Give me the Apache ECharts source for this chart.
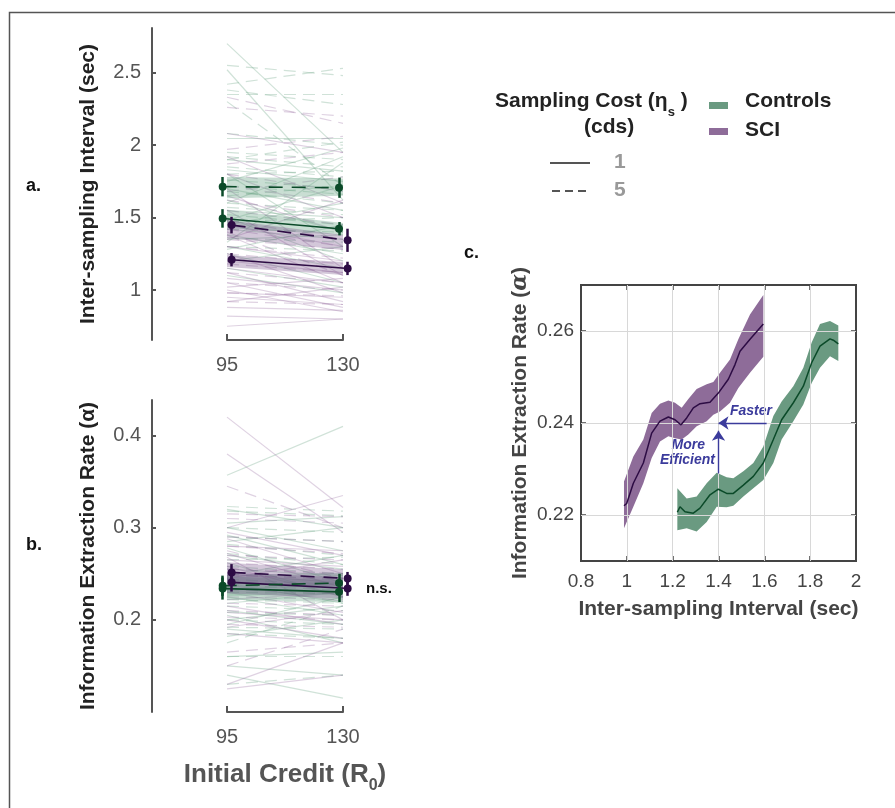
<!DOCTYPE html>
<html>
<head>
<meta charset="utf-8">
<script src="https://cdn.jsdelivr.net/npm/echarts@6/dist/echarts.min.js"></script>
<style>
  html, body { margin: 0; background: #fff; }
  #chart { width: 895px; height: 808px; }
</style>
</head>
<body>
<div id="chart"></div>
<script>
// ---- data ----
const credits = [95, 130]
const ctrlX = [93.7, 128.8]   // controls drawn a bit left
const sciX = [96.4, 131.4]    // SCI drawn a bit right

// panel a: individual subjects [R0=95, R0=130]
const isiCtrl1 = [[2.70,1.95],[2.52,1.62],[2.05,2.05],[1.90,1.82],[1.83,1.75],[1.80,1.30],[1.75,1.98],[1.70,1.55],[1.62,1.40],[1.55,1.50],[1.50,1.20],[1.45,1.60],[1.42,1.35],[1.38,1.25],[1.35,1.38],[1.30,1.15],[1.28,1.45],[1.25,1.05],[1.20,1.30],[1.15,1.02],[1.10,0.98],[1.48,1.72],[1.60,1.92],[1.33,1.88]]
const isiCtrl5 = [[2.38,2.28],[2.55,2.48],[2.35,2.35],[2.42,2.53],[2.08,2.00],[1.95,1.90],[1.92,1.85],[1.85,1.78],[1.80,1.82],[1.76,1.70],[1.72,1.66],[1.68,1.60],[1.65,1.72],[1.60,1.55],[1.57,1.52],[1.52,1.45],[1.47,1.50],[1.42,1.40],[1.36,1.33],[1.30,1.27],[1.90,2.02],[2.30,1.72]]
const isiSci1 = [[2.08,1.95],[1.92,1.60],[1.80,1.50],[1.65,1.40],[1.55,1.10],[1.45,1.30],[1.38,1.05],[1.30,1.20],[1.25,0.98],[1.20,1.12],[1.15,1.05],[1.12,0.92],[1.08,1.00],[1.05,0.88],[1.02,1.08],[1.00,0.85],[0.98,0.95],[0.95,0.90],[0.92,1.02],[0.82,0.80],[0.75,0.80],[0.88,0.86],[1.35,1.62],[1.70,1.15]]
const isiSci5 = [[2.33,2.15],[2.26,2.20],[1.97,2.06],[1.87,1.95],[1.80,1.68],[1.72,1.60],[1.62,1.50],[1.55,1.45],[1.48,1.35],[1.42,1.30],[1.35,1.28],[1.30,1.22],[1.25,1.18],[1.18,1.12],[1.12,1.05],[1.05,1.00],[0.98,0.96],[0.92,0.90],[1.68,1.78],[1.40,1.10]]

// panel a: group means, error bars, shaded spread
const isiMeanCtrl1 = [1.494, 1.423], isiErrCtrl1 = [0.064, 0.046], isiLoCtrl1 = [1.428, 1.379], isiHiCtrl1 = [1.552, 1.462]
const isiMeanCtrl5 = [1.713, 1.706], isiErrCtrl5 = [0.067, 0.070], isiLoCtrl5 = [1.634, 1.650], isiHiCtrl5 = [1.779, 1.770]
const isiMeanSci1 = [1.209, 1.149], isiErrSci1 = [0.046, 0.046], isiLoSci1 = [1.159, 1.103], isiHiSci1 = [1.241, 1.193]
const isiMeanSci5 = [1.448, 1.343], isiErrSci5 = [0.057, 0.080], isiLoSci5 = [1.359, 1.276], isiHiSci5 = [1.483, 1.379]

// panel b: individual subjects
const alphaCtrl1 = [[0.357,0.410],[0.320,0.300],[0.305,0.312],[0.300,0.275],[0.292,0.260],[0.285,0.300],[0.278,0.240],[0.270,0.255],[0.262,0.225],[0.255,0.248],[0.248,0.270],[0.240,0.218],[0.232,0.240],[0.225,0.205],[0.218,0.230],[0.210,0.195],[0.200,0.215],[0.190,0.180],[0.182,0.200],[0.160,0.165],[0.150,0.140],[0.140,0.115],[0.205,0.175],[0.195,0.225]]
const alphaCtrl5 = [[0.323,0.318],[0.318,0.313],[0.300,0.295],[0.290,0.285],[0.282,0.270],[0.272,0.260],[0.265,0.268],[0.258,0.250],[0.250,0.243],[0.244,0.238],[0.238,0.232],[0.230,0.228],[0.222,0.218],[0.215,0.210],[0.208,0.205],[0.200,0.195],[0.192,0.190],[0.185,0.180],[0.160,0.160],[0.130,0.140],[0.175,0.215]]
const alphaSci1 = [[0.420,0.322],[0.380,0.295],[0.300,0.335],[0.295,0.270],[0.288,0.250],[0.280,0.275],[0.272,0.235],[0.265,0.258],[0.258,0.225],[0.250,0.240],[0.245,0.265],[0.238,0.220],[0.230,0.208],[0.222,0.230],[0.215,0.195],[0.208,0.200],[0.200,0.180],[0.192,0.210],[0.185,0.175],[0.130,0.175],[0.125,0.140],[0.268,0.200]]
const alphaSci5 = [[0.345,0.300],[0.315,0.312],[0.310,0.305],[0.290,0.285],[0.280,0.272],[0.270,0.265],[0.262,0.255],[0.255,0.250],[0.248,0.245],[0.240,0.235],[0.233,0.228],[0.225,0.222],[0.218,0.215],[0.210,0.205],[0.203,0.200],[0.195,0.192],[0.165,0.175],[0.150,0.190],[0.275,0.245]]

const alphaMeanCtrl1 = [0.234, 0.2304], alphaErrCtrl1 = [0.012, 0.011], alphaLoCtrl1 = [0.222, 0.219], alphaHiCtrl1 = [0.247, 0.243]
const alphaMeanCtrl5 = [0.237, 0.240], alphaErrCtrl5 = [0.011, 0.010], alphaLoCtrl5 = [0.226, 0.228], alphaHiCtrl5 = [0.249, 0.251]
const alphaMeanSci1 = [0.2407, 0.2341], alphaErrSci1 = [0.010, 0.008], alphaLoSci1 = [0.229, 0.223], alphaHiSci1 = [0.252, 0.246]
const alphaMeanSci5 = [0.2515, 0.245], alphaErrSci5 = [0.009, 0.007], alphaLoSci5 = [0.240, 0.236], alphaHiSci5 = [0.262, 0.255]

// panel c: sliding-window curves
const sciIsi = [0.9876,0.9993,1.0284,1.0720,1.1084,1.1447,1.1811,1.2102,1.2364,1.2611,1.2902,1.3193,1.3629,1.3993,1.4429,1.4720,1.4938,1.5375,1.5956]
const sciAlpha = [0.2220,0.2225,0.2269,0.2313,0.2378,0.2404,0.2413,0.2407,0.2396,0.2411,0.2433,0.2442,0.2445,0.2465,0.2495,0.2527,0.2556,0.2582,0.2615]
const sciBandX = [0.9876,1.0284,1.0720,1.1084,1.1447,1.1811,1.2102,1.2393,1.2684,1.3047,1.3484,1.3775,1.4065,1.4502,1.4865,1.5375,1.5956]
const sciBandHi = [0.2273,0.2327,0.2364,0.2422,0.2442,0.2449,0.2444,0.2433,0.2452,0.2474,0.2484,0.2489,0.2509,0.2538,0.2582,0.2636,0.2678]
const sciBandLo = [0.2171,0.2218,0.2269,0.2324,0.2360,0.2371,0.2367,0.2364,0.2375,0.2393,0.2404,0.2418,0.2425,0.2444,0.2476,0.2509,0.2544]
const ctrlIsi = [1.2204,1.2320,1.2538,1.2902,1.3193,1.3629,1.3993,1.4356,1.4647,1.5084,1.5520,1.5956,1.6393,1.6756,1.7265,1.7702,1.8065,1.8429,1.8865,1.9011,1.9229]
const ctrlAlpha = [0.2206,0.2218,0.2207,0.2204,0.2215,0.2244,0.2256,0.2247,0.2247,0.2265,0.2284,0.2313,0.2364,0.2407,0.2444,0.2480,0.2531,0.2567,0.2583,0.2580,0.2572]
const ctrlBandX = [1.2204,1.2611,1.3047,1.3484,1.3920,1.4356,1.4647,1.5084,1.5520,1.5956,1.6393,1.6756,1.7265,1.7702,1.8065,1.8429,1.8865,1.9229]
const ctrlBandHi = [0.2258,0.2236,0.2240,0.2269,0.2292,0.2282,0.2280,0.2295,0.2313,0.2349,0.2415,0.2447,0.2480,0.2520,0.2575,0.2615,0.2622,0.2612]
const ctrlBandLo = [0.2167,0.2171,0.2164,0.2185,0.2218,0.2217,0.2220,0.2240,0.2258,0.2276,0.2313,0.2364,0.2404,0.2440,0.2487,0.2520,0.2545,0.2535]

// ---- styles ----
const FONT = 'Liberation Sans'
const GREEN = '#0b4a29', PURPLE = '#2d0c44'
const GREEN_THIN = 'rgba(110,165,135,0.32)', PURPLE_THIN = 'rgba(150,105,160,0.30)'
const GREEN_BAND = 'rgba(100,160,130,0.35)', PURPLE_BAND = 'rgba(110,70,130,0.30)'
const ANNOT = '#3b3b9c'

function spaghetti(gi, pairs, color, dashed) {
    return {
        type: 'lines', coordinateSystem: 'cartesian2d', xAxisIndex: gi, yAxisIndex: gi,
        silent: true, z: 1,
        data: pairs.map(p => ({ coords: [[credits[0], p[0]], [credits[1], p[1]]] })),
        lineStyle: { color, width: 1.2, opacity: 1, type: dashed ? [12, 7] : 'solid' }
    }
}

function band(gi, xs, lo, hi, color, z) {
    return {
        type: 'custom', xAxisIndex: gi, yAxisIndex: gi, silent: true, z: z || 2,
        data: [0],
        renderItem: (params, api) => {
            const up = hi.map((v, i) => api.coord([xs[i], v]))
            const down = lo.map((v, i) => api.coord([xs[i], v])).reverse()
            return { type: 'polygon', shape: { points: up.concat(down) }, style: { fill: color } }
        }
    }
}

function mean(gi, xs, ys, color, dashed) {
    return {
        type: 'line', xAxisIndex: gi, yAxisIndex: gi, clip: false, z: 5, silent: true,
        data: xs.map((x, i) => [x, ys[i]]),
        symbol: 'circle', symbolSize: 8,
        itemStyle: { color },
        lineStyle: { color, width: 1.6, type: dashed ? [14, 9] : 'solid' }
    }
}

function errorBars(gi, xs, ys, errs, color) {
    return {
        type: 'lines', coordinateSystem: 'cartesian2d', xAxisIndex: gi, yAxisIndex: gi,
        clip: false, silent: true, z: 6,
        data: xs.map((x, i) => ({ coords: [[x, ys[i] - errs[i]], [x, ys[i] + errs[i]]] })),
        lineStyle: { color, width: 2.5, opacity: 1 }
    }
}

function creditAxis(gi, name) {
    return {
        type: 'value', gridIndex: gi, min: 95, max: 130,
        axisLine: { lineStyle: { color: '#555', width: 2 } },
        axisTick: { inside: true, length: 6, customValues: credits, lineStyle: { color: '#555', width: 2 } },
        axisLabel: { customValues: credits, margin: 15, fontSize: 20, color: '#555', fontFamily: FONT },
        splitLine: { show: false },
        name, nameLocation: 'middle', nameGap: 44,
        nameTextStyle: {
            fontSize: 26, fontWeight: 'bold', color: '#555', fontFamily: FONT,
            rich: { sub: { fontSize: 16, fontWeight: 'bold', color: '#555', fontFamily: FONT, verticalAlign: 'bottom', lineHeight: 38 } }
        }
    }
}

function leftAxis(gi, min, max, ticks, name) {
    return {
        type: 'value', gridIndex: gi, min, max, offset: 75,
        axisLine: { show: true, lineStyle: { color: '#555', width: 2 } },
        axisTick: { show: true, inside: true, length: 4, customValues: ticks, lineStyle: { color: '#555', width: 2 } },
        axisLabel: { customValues: ticks, margin: 11, fontSize: 20, color: '#555', fontFamily: FONT },
        splitLine: { show: false },
        name, nameLocation: 'middle', nameGap: 53,
        nameTextStyle: { fontSize: 21, fontWeight: 'bold', color: '#222', fontFamily: FONT }
    }
}

const chart = echarts.init(document.getElementById('chart'))

const option = {
    backgroundColor: '#fff',
    animation: false,
    grid: [
        { left: 227, top: 28, width: 116, height: 312 },
        { left: 227, top: 400, width: 116, height: 312 },
        { left: 581, top: 285, width: 275, height: 276, show: true, borderColor: '#444', borderWidth: 2 }
    ],
    xAxis: [
        creditAxis(0, ''),
        creditAxis(1, 'Initial Credit (R{sub|0})'),
        {
            type: 'value', gridIndex: 2, min: 0.8, max: 2, interval: 0.2,
            axisLine: { lineStyle: { color: '#444', width: 2 } },
            axisTick: { inside: true, length: 5, lineStyle: { color: '#444', width: 1.5 } },
            axisLabel: { fontSize: 19, color: '#444', fontFamily: FONT, margin: 11, showMinLabel: true, showMaxLabel: true },
            splitLine: { show: false },
            name: 'Inter-sampling Interval (sec)', nameLocation: 'middle', nameGap: 38,
            nameTextStyle: { fontSize: 21, fontWeight: 'bold', color: '#444', fontFamily: FONT }
        },
        {
            type: 'value', gridIndex: 2, position: 'top', min: 0.8, max: 2, interval: 0.2,
            axisLine: { lineStyle: { color: '#444', width: 2 } },
            axisTick: { inside: true, length: 5, lineStyle: { color: '#444', width: 1.5 } },
            axisLabel: { show: false }, splitLine: { show: false }
        }
    ],
    yAxis: [
        leftAxis(0, 0.655, 2.808, [1, 1.5, 2, 2.5], 'Inter-sampling Interval (sec)'),
        leftAxis(1, 0.1, 0.4386, [0.2, 0.3, 0.4], 'Information Extraction Rate (α)'),
        {
            type: 'value', gridIndex: 2, min: 0.21, max: 0.27,
            axisLine: { show: true, lineStyle: { color: '#444', width: 2 } },
            axisTick: { show: true, inside: true, length: 5, customValues: [0.22, 0.24, 0.26], lineStyle: { color: '#444', width: 1.5 } },
            axisLabel: { customValues: [0.22, 0.24, 0.26], formatter: v => v.toFixed(2), fontSize: 19, color: '#444', fontFamily: FONT, margin: 7 },
            splitLine: { show: false },
            name: 'Information Extraction Rate ({a|α})', nameLocation: 'middle', nameGap: 50,
            nameTextStyle: {
                fontSize: 21, fontWeight: 'bold', color: '#444', fontFamily: FONT,
                rich: { a: { fontSize: 22, fontStyle: 'italic', fontFamily: 'DejaVu Serif', color: '#444' } }
            }
        },
        {
            type: 'value', gridIndex: 2, position: 'right', min: 0.21, max: 0.27,
            axisLine: { show: true, lineStyle: { color: '#444', width: 2 } },
            axisTick: { show: true, inside: true, length: 5, customValues: [0.22, 0.24, 0.26], lineStyle: { color: '#444', width: 1.5 } },
            axisLabel: { show: false }, splitLine: { show: false }
        }
    ],
    series: [
        // panel a
        spaghetti(0, isiCtrl1, GREEN_THIN, false),
        spaghetti(0, isiCtrl5, GREEN_THIN, true),
        spaghetti(0, isiSci1, PURPLE_THIN, false),
        spaghetti(0, isiSci5, PURPLE_THIN, true),
        band(0, credits, isiLoCtrl5, isiHiCtrl5, GREEN_BAND),
        band(0, credits, isiLoCtrl1, isiHiCtrl1, GREEN_BAND),
        band(0, credits, isiLoSci5, isiHiSci5, PURPLE_BAND),
        band(0, credits, isiLoSci1, isiHiSci1, PURPLE_BAND),
        mean(0, ctrlX, isiMeanCtrl5, GREEN, true),
        mean(0, ctrlX, isiMeanCtrl1, GREEN, false),
        mean(0, sciX, isiMeanSci5, PURPLE, true),
        mean(0, sciX, isiMeanSci1, PURPLE, false),
        errorBars(0, ctrlX, isiMeanCtrl5, isiErrCtrl5, GREEN),
        errorBars(0, ctrlX, isiMeanCtrl1, isiErrCtrl1, GREEN),
        errorBars(0, sciX, isiMeanSci5, isiErrSci5, PURPLE),
        errorBars(0, sciX, isiMeanSci1, isiErrSci1, PURPLE),
        // panel b
        spaghetti(1, alphaCtrl1, GREEN_THIN, false),
        spaghetti(1, alphaCtrl5, GREEN_THIN, true),
        spaghetti(1, alphaSci1, PURPLE_THIN, false),
        spaghetti(1, alphaSci5, PURPLE_THIN, true),
        band(1, credits, alphaLoCtrl5, alphaHiCtrl5, GREEN_BAND),
        band(1, credits, alphaLoCtrl1, alphaHiCtrl1, GREEN_BAND),
        band(1, credits, alphaLoSci5, alphaHiSci5, PURPLE_BAND),
        band(1, credits, alphaLoSci1, alphaHiSci1, PURPLE_BAND),
        mean(1, sciX, alphaMeanSci5, PURPLE, true),
        mean(1, sciX, alphaMeanSci1, PURPLE, false),
        mean(1, ctrlX, alphaMeanCtrl5, GREEN, true),
        mean(1, ctrlX, alphaMeanCtrl1, GREEN, false),
        errorBars(1, sciX, alphaMeanSci5, alphaErrSci5, PURPLE),
        errorBars(1, sciX, alphaMeanSci1, alphaErrSci1, PURPLE),
        errorBars(1, ctrlX, alphaMeanCtrl5, alphaErrCtrl5, GREEN),
        errorBars(1, ctrlX, alphaMeanCtrl1, alphaErrCtrl1, GREEN),
        // panel c: grid lines
        {
            type: 'line', xAxisIndex: 2, yAxisIndex: 2, data: [], silent: true, z: 1,
            markLine: {
                silent: true, symbol: 'none', label: { show: false },
                lineStyle: { color: '#d8d8d8', width: 1, type: 'solid' },
                data: [{ yAxis: 0.22 }, { yAxis: 0.24 }, { yAxis: 0.26 },
                       { xAxis: 1 }, { xAxis: 1.2 }, { xAxis: 1.4 }, { xAxis: 1.6 }, { xAxis: 1.8 }]
            }
        },
        band(2, sciBandX, sciBandLo, sciBandHi, '#8e6c99', 3),
        band(2, ctrlBandX, ctrlBandLo, ctrlBandHi, '#6a9a81', 3),
        {
            type: 'line', xAxisIndex: 2, yAxisIndex: 2, z: 5, silent: true, showSymbol: false,
            data: sciIsi.map((x, i) => [x, sciAlpha[i]]),
            lineStyle: { color: PURPLE, width: 1.5 }
        },
        {
            type: 'line', xAxisIndex: 2, yAxisIndex: 2, z: 5, silent: true, showSymbol: false,
            data: ctrlIsi.map((x, i) => [x, ctrlAlpha[i]]),
            lineStyle: { color: GREEN, width: 1.5 }
        },
        // arrows
        {
            type: 'lines', coordinateSystem: 'cartesian2d', xAxisIndex: 2, yAxisIndex: 2, z: 6, silent: true,
            symbol: ['none', 'arrow'], symbolSize: 10,
            data: [{ coords: [[1.61, 0.24], [1.40, 0.24]] }, { coords: [[1.4, 0.2290], [1.4, 0.2383]] }],
            lineStyle: { color: ANNOT, width: 1.4, opacity: 1 }
        }
    ],
    graphic: [
        { type: 'rect', shape: { x: 9.5, y: 12.5, width: 900, height: 820 }, style: { fill: 'none', stroke: '#555', lineWidth: 1.5 }, silent: true },
        { type: 'text', left: 26, top: 177, style: { text: 'a.', font: 'bold 18px "Liberation Sans"', fill: '#111' } },
        { type: 'text', left: 26, top: 536, style: { text: 'b.', font: 'bold 18px "Liberation Sans"', fill: '#111' } },
        { type: 'text', left: 464, top: 244, style: { text: 'c.', font: 'bold 18px "Liberation Sans"', fill: '#111' } },
        { type: 'text', left: 366, top: 581, style: { text: 'n.s.', font: 'bold 15px "Liberation Sans"', fill: '#111' } },
        // legend
        {
            type: 'text', left: 495, top: 91,
            style: {
                text: 'Sampling Cost (η{s|s} )', font: 'bold 21px "Liberation Sans"', fill: '#222',
                rich: { s: { font: 'bold 13px "Liberation Sans"', fill: '#222', verticalAlign: 'bottom', lineHeight: 34 } }
            }
        },
        { type: 'text', left: 584, top: 117, style: { text: '(cds)', font: 'bold 21px "Liberation Sans"', fill: '#222' } },
        { type: 'line', shape: { x1: 550, y1: 163, x2: 590, y2: 163 }, style: { stroke: '#555', lineWidth: 2 } },
        { type: 'line', shape: { x1: 552, y1: 191, x2: 590, y2: 191 }, style: { stroke: '#555', lineWidth: 2, lineDash: [8, 5] } },
        { type: 'text', left: 614, top: 152, style: { text: '1', font: 'bold 21px "Liberation Sans"', fill: '#999' } },
        { type: 'text', left: 614, top: 180, style: { text: '5', font: 'bold 21px "Liberation Sans"', fill: '#999' } },
        { type: 'rect', shape: { x: 709, y: 102, width: 19, height: 7 }, style: { fill: '#6a9a81' } },
        { type: 'rect', shape: { x: 709, y: 128, width: 19, height: 7 }, style: { fill: '#8e6c99' } },
        { type: 'text', left: 745, top: 91, style: { text: 'Controls', font: 'bold 21px "Liberation Sans"', fill: '#222' } },
        { type: 'text', left: 745, top: 120, style: { text: 'SCI', font: 'bold 21px "Liberation Sans"', fill: '#222' } },
        // panel c annotations
        { type: 'text', left: 730, top: 404, style: { text: 'Faster', font: 'italic bold 14px "Liberation Sans"', fill: ANNOT } },
        { type: 'text', right: 895 - 705, top: 438, style: { text: 'More', font: 'italic bold 14px "Liberation Sans"', fill: ANNOT } },
        { type: 'text', right: 895 - 715, top: 453, style: { text: 'Efficient', font: 'italic bold 14px "Liberation Sans"', fill: ANNOT } }
    ]
}

chart.setOption(option)
</script>
</body>
</html>
